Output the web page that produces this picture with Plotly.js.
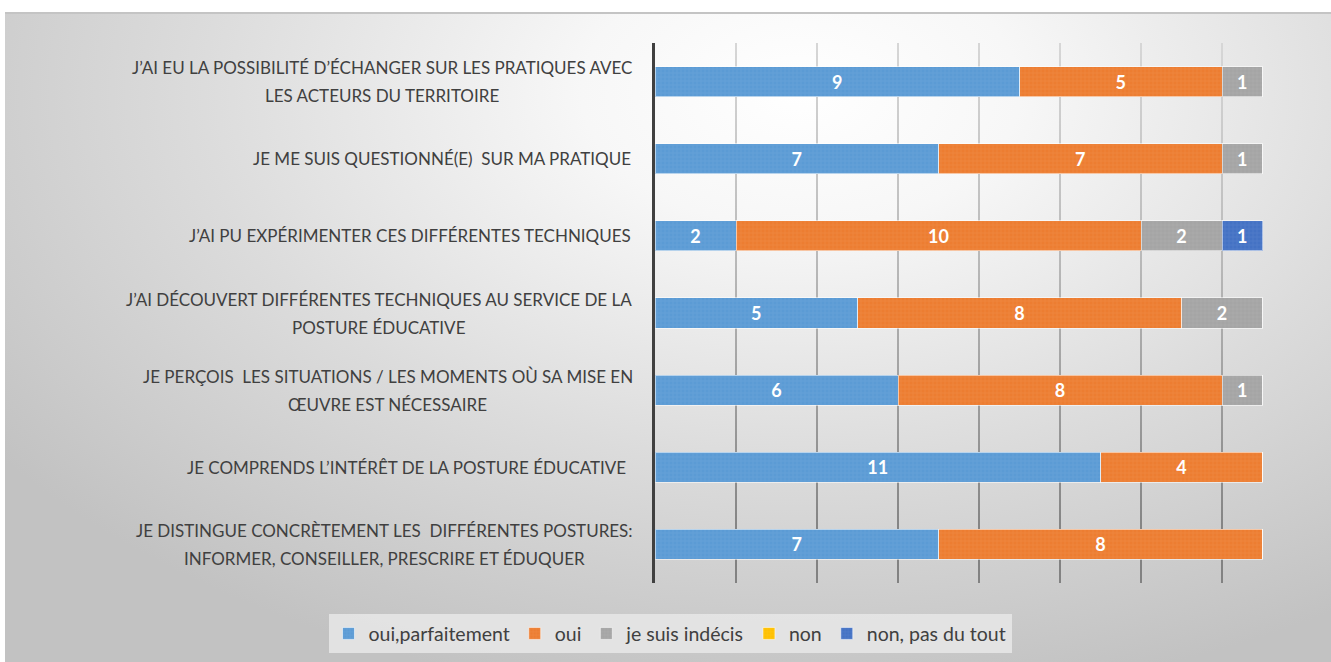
<!DOCTYPE html>
<html>
<head>
<meta charset="utf-8">
<script src="https://cdn.plot.ly/plotly-3.0.1.min.js"></script>
<style>
  html, body { margin: 0; padding: 0; background: #ffffff; width: 1331px; height: 662px; overflow: hidden; }
  #bg { position: absolute; left: 5px; top: 12px; width: 1326px; height: 650px;
        border-top: 2px solid #c4c4c4; box-sizing: border-box;
        background: radial-gradient(ellipse 75% 95% at 60% 12%, #ffffff 0%, #f7f7f7 22%, #dcdcdc 60%, #c2c2c2 100%); }
  #chart { position: absolute; left: 0; top: 0; width: 1331px; height: 662px; }
</style>
</head>
<body>
<div id="bg"></div>
<div id="chart"></div>
<script>
const categories = [
  "J’AI EU LA POSSIBILITÉ D’ÉCHANGER SUR LES PRATIQUES AVEC<br>LES ACTEURS DU TERRITOIRE",
  "JE ME SUIS QUESTIONNÉ(E)  SUR MA PRATIQUE",
  "J’AI PU EXPÉRIMENTER CES DIFFÉRENTES TECHNIQUES",
  "J’AI DÉCOUVERT DIFFÉRENTES TECHNIQUES AU SERVICE DE LA<br>POSTURE ÉDUCATIVE",
  "JE PERÇOIS  LES SITUATIONS / LES MOMENTS OÙ SA MISE EN<br>ŒUVRE EST NÉCESSAIRE",
  "JE COMPRENDS L’INTÉRÊT DE LA POSTURE ÉDUCATIVE ",
  "JE DISTINGUE CONCRÈTEMENT LES  DIFFÉRENTES POSTURES:<br>INFORMER, CONSEILLER, PRESCRIRE ET ÉDUQUER"
];
const seriesNames = ["oui,parfaitement", "oui", "je suis indécis", "non", "non, pas du tout"];
const ouiParfaitement = [9, 7, 2, 5, 6, 11, 7];
const oui             = [5, 7, 10, 8, 8, 4, 8];
const indecis         = [1, 1, 2, 2, 1, 0, 0];
const non             = [0, 0, 0, 0, 0, 0, 0];
const pasDuTout       = [0, 0, 1, 0, 0, 0, 0];
const seriesColors = ["#5B9BD5", "#ED7D31", "#A5A5A5", "#FFC000", "#4472C4"];

const allSeries = [ouiParfaitement, oui, indecis, non, pasDuTout];
const FONT = "Lato, 'Open Sans', sans-serif";
const LABEL_SIZE = 17;

const traces = allSeries.map((vals, i) => ({
  type: "bar",
  orientation: "h",
  name: seriesNames[i],
  y: categories,
  x: vals,
  text: vals.map(v => v ? String(v) : ""),
  textposition: "inside",
  insidetextanchor: "middle",
  textangle: 0,
  textfont: { family: FONT, size: 18, color: "#ffffff", weight: "bold" },
  hoverinfo: "x+name",
  marker: {
    color: seriesColors[i],
    line: { color: "rgba(255,255,255,0.55)", width: 1 },
    pattern: { shape: "+", fgcolor: "rgba(255,255,255,0.18)", size: 4, solidity: 0.25, fillmode: "overlay" }
  },
  width: 0.39
}));

// measure text width so that multi-line labels are centred on their longest (first) line
const ctx = document.createElement("canvas").getContext("2d");
ctx.font = LABEL_SIZE + "px Lato, 'Open Sans', sans-serif";
const annotations = [];
categories.forEach(c => {
  const lines = c.split("<br>");
  const base = { xref: "paper", yref: "y", x: 0, y: c, yanchor: "middle", showarrow: false,
                 font: { family: FONT, size: LABEL_SIZE, color: "#404040" } };
  if (lines.length === 1) {
    annotations.push(Object.assign({}, base, { text: lines[0], xanchor: "right", xshift: -22 }));
  } else {
    const w = Math.max(...lines.map(l => ctx.measureText(l).width));
    const centre = -22 - w / 2;
    lines.forEach((l, k) => {
      annotations.push(Object.assign({}, base, {
        text: l, xanchor: "center", xshift: centre,
        yshift: 14 - 28 * k
      }));
    });
  }
});

const layout = {
  width: 1331, height: 662,
  paper_bgcolor: "rgba(0,0,0,0)",
  plot_bgcolor: "rgba(0,0,0,0)",
  barmode: "stack",
  margin: { l: 655, r: 28, t: 43, b: 79, autoexpand: false },
  font: { family: FONT, color: "#404040" },
  xaxis: {
    range: [0, 16], dtick: 2, tick0: 0,
    showticklabels: false,
    showgrid: true, gridcolor: "rgba(0,0,0,0.2)", gridwidth: 2,
    zeroline: false, showline: false, fixedrange: true
  },
  yaxis: {
    autorange: "reversed",
    showticklabels: false,
    showgrid: false, zeroline: false,
    showline: true, linecolor: "#404040", linewidth: 3,
    fixedrange: true
  },
  annotations: annotations,
  showlegend: true,
  legend: {
    orientation: "h",
    xref: "paper", yref: "paper",
    x: -0.55, xanchor: "left",
    y: -0.094, yanchor: "middle",
    bgcolor: "rgba(232,232,232,0.85)",
    font: { family: FONT, size: 19.5, color: "#404040" },
    itemwidth: 30,
    traceorder: "normal"
  }
};

Plotly.newPlot("chart", traces, layout, { displayModeBar: false, staticPlot: true }).then(gd => {
  // centre the legend box horizontally around x = 670 px of the page, as in the reference
  const sz = gd._fullLayout._size;
  const legW = gd._fullLayout.legend._width;
  const targetLeft = 670 - legW / 2;
  return Plotly.relayout(gd, { "legend.x": (targetLeft - sz.l) / sz.w });
}).then(gd => {
  // gridlines darken from top to bottom, as in the reference
  const svg = gd.querySelector(".main-svg");
  const NS = "http://www.w3.org/2000/svg";
  let defs = svg.querySelector("defs");
  if (!defs) { defs = document.createElementNS(NS, "defs"); svg.insertBefore(defs, svg.firstChild); }
  const plotH = gd._fullLayout._size.h;
  const grad = document.createElementNS(NS, "linearGradient");
  grad.setAttribute("id", "gridGrad");
  grad.setAttribute("gradientUnits", "userSpaceOnUse");
  grad.setAttribute("x1", "0"); grad.setAttribute("x2", "0");
  grad.setAttribute("y1", "0"); grad.setAttribute("y2", String(plotH));
  [["0", "#dcdcdc"], ["0.45", "#bcbcbc"], ["0.75", "#9c9c9c"], ["1", "#828282"]].forEach(([o, col]) => {
    const s = document.createElementNS(NS, "stop");
    s.setAttribute("offset", o); s.setAttribute("stop-color", col);
    grad.appendChild(s);
  });
  defs.appendChild(grad);
  gd.querySelectorAll(".gridlayer .xgrid").forEach(p => {
    p.style.stroke = "url(#gridGrad)";
    p.style.strokeOpacity = "1";
  });
});
</script>
</body>
</html>
